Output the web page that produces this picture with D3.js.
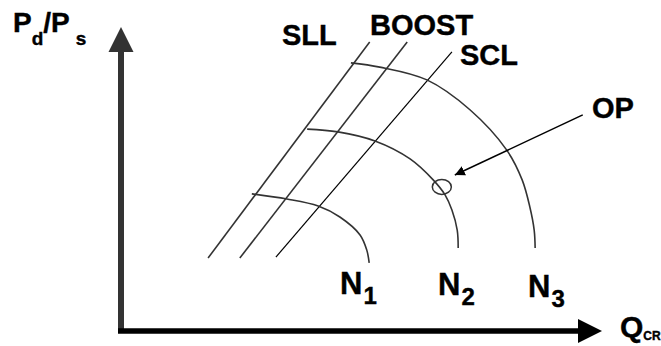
<!DOCTYPE html>
<html>
<head>
<meta charset="utf-8">
<script src="https://cdn.jsdelivr.net/npm/d3@7"></script>
<style>
  body { margin: 0; background: #fff; }
  svg text { font-family: "Liberation Sans", Arial, sans-serif; font-weight: bold; fill: #000; stroke: #000; stroke-width: 0.4; }
</style>
</head>
<body>
<svg width="661" height="346"></svg>
<script>
// values, in arbitrary units (Q and Pd/Ps both 0..10)
var speedNames = ["1", "2", "3"];
var speedN1 = [[2.72,4.51],[3.45,4.34],[4.10,4.11],[4.55,3.75],[4.97,3.16],[5.11,2.66],[5.16,2.24]];
var speedN2 = [[3.87,6.64],[4.51,6.55],[5.28,6.25],[6.01,5.66],[6.49,4.97],[6.74,4.47],[6.88,3.98],[6.99,3.32],[7.01,2.73]];
var speedN3 = [[4.78,8.82],[5.38,8.68],[6.36,8.26],[7.26,7.27],[8.02,5.95],[8.34,4.97],[8.50,4.08],[8.59,3.32],[8.61,2.73]];

var surgeNames = ["SLL", "BOOST", "SCL"];
var surgeLines = [
  [[1.81,2.40],[5.17,9.51]],
  [[2.47,2.40],[5.95,9.51]],
  [[3.22,2.43],[6.88,9.18]]
];

var opPoint = [6.67, 4.74];
var opArrow = [[9.60,7.11],[6.94,5.13]];
var axisMax = 10;

var svg = d3.select("svg");

var x = d3.scaleLinear().domain([0, axisMax]).range([121, 602]),
    y = d3.scaleLinear().domain([0, axisMax]).range([331, 27]);

var line = d3.line()
    .x(function(d) { return x(d[0]); })
    .y(function(d) { return y(d[1]); });

// axes with arrow heads
svg.append("line")
    .attr("x1", x(0)).attr("y1", y(0) + 2)
    .attr("x2", x(0)).attr("y2", y(axisMax) + 20)
    .attr("stroke", "#333").attr("stroke-width", 6);
svg.append("path")
    .attr("d", "M" + x(0) + "," + y(axisMax) + "L" + (x(0) + 12.5) + "," + (y(axisMax) + 25) + "L" + (x(0) - 12.5) + "," + (y(axisMax) + 25) + "Z")
    .attr("fill", "#333");

svg.append("line")
    .attr("x1", x(0) - 3).attr("y1", y(0))
    .attr("x2", x(axisMax) - 20).attr("y2", y(0))
    .attr("stroke", "#000").attr("stroke-width", 5.5);
svg.append("path")
    .attr("d", "M" + x(axisMax) + "," + y(0) + "L" + (x(axisMax) - 24) + "," + (y(0) - 12) + "L" + (x(axisMax) - 24) + "," + (y(0) + 12) + "Z")
    .attr("fill", "#000");

// surge / control lines
svg.append("g").selectAll("path")
    .data(surgeLines)
    .enter().append("path")
    .attr("d", line)
    .attr("fill", "none")
    .attr("stroke", function(d, i) { return i == 2 ? "#000" : "#333"; })
    .attr("stroke-width", function(d, i) { return i == 2 ? 1.2 : 1.6; });

// speed lines
var curve = d3.line()
    .x(function(d) { return x(d[0]); })
    .y(function(d) { return y(d[1]); })
    .curve(d3.curveCatmullRom);

svg.append("g").selectAll("path")
    .data([speedN1, speedN2, speedN3])
    .enter().append("path")
    .attr("d", curve)
    .attr("fill", "none")
    .attr("stroke", "#333")
    .attr("stroke-width", 1.6);

// operating point
svg.append("ellipse")
    .attr("cx", x(opPoint[0])).attr("cy", y(opPoint[1]))
    .attr("rx", 9.5).attr("ry", 7.5)
    .attr("fill", "none").attr("stroke", "#333").attr("stroke-width", 1.5);

svg.append("defs").append("marker")
    .attr("id", "tip")
    .attr("viewBox", "0 -5 10 10")
    .attr("refX", 10).attr("refY", 0)
    .attr("markerWidth", 10).attr("markerHeight", 10)
    .attr("markerUnits", "userSpaceOnUse")
    .attr("orient", "auto")
  .append("path")
    .attr("d", "M0,-5L10,0L0,5Z")
    .attr("fill", "#000");

svg.append("path")
    .attr("d", line(opArrow))
    .attr("stroke", "#000").attr("stroke-width", 1.5)
    .attr("marker-end", "url(#tip)");

// labels
var yLab = svg.append("text").attr("x", 13).attr("y", 32).style("font-size", "28px");
yLab.append("tspan").text("P");
yLab.append("tspan").attr("dy", 13).style("font-size", "19px").text("d");
yLab.append("tspan").attr("dy", -13).text("/P");
yLab.append("tspan").attr("dx", 6).attr("dy", 13).style("font-size", "19px").text("s");

var surgeLab = [[282, 45], [370, 35], [460, 65]];
svg.append("g").selectAll("text")
    .data(surgeNames)
    .enter().append("text")
    .attr("x", function(d, i) { return surgeLab[i][0]; })
    .attr("y", function(d, i) { return surgeLab[i][1]; })
    .style("font-size", "29px")
    .text(function(d) { return d; });

svg.append("text").attr("x", 592).attr("y", 118).style("font-size", "29px").text("OP");

var nLab = [[340, 294], [438, 295], [528, 297]];
speedNames.forEach(function(s, i) {
  var t = svg.append("text").attr("x", nLab[i][0]).attr("y", nLab[i][1]).style("font-size", "31px");
  t.append("tspan").text("N");
  t.append("tspan").attr("dx", 1).attr("dy", 10).style("font-size", "24px").text(s);
});

var qLab = svg.append("text").attr("x", 620).attr("y", 337).style("font-size", "30px");
qLab.append("tspan").text("Q");
qLab.append("tspan").attr("dy", 3).style("font-size", "12px").text("CR");
</script>
</body>
</html>
